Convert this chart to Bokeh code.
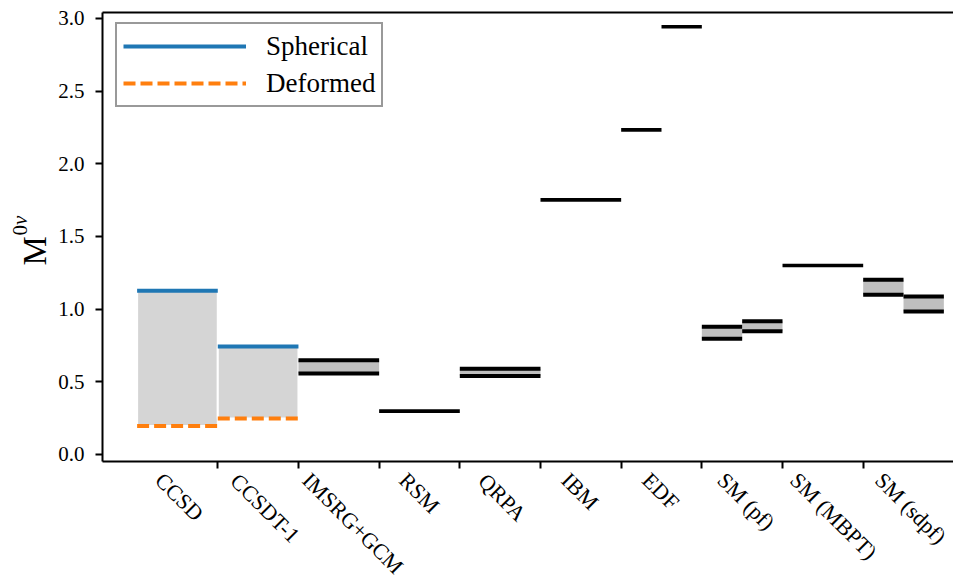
import math
from bokeh.plotting import figure
from bokeh.models import (Range1d, FixedTicker, LinearAxis, Label, Legend,
                          LegendItem, PrintfTickFormatter)
from bokeh.embed import file_html
from bokeh.resources import INLINE

# ---------------- data ----------------
methods = ["CCSD", "CCSDT-1", "IMSRG+GCM", "RSM", "QRPA", "IBM", "EDF",
           "SM (pf)", "SM (MBPT)", "SM (sdpf)"]

# coupled-cluster results: spherical vs deformed reference
cc_methods = ["CCSD", "CCSDT-1"]
cc_spherical = [1.126, 0.743]
cc_deformed = [0.195, 0.248]

# results given as a band (lower, upper); "left"/"right" = half of the slot
band_methods = ["IMSRG+GCM", "QRPA", "SM (pf)", "SM (pf)", "SM (sdpf)", "SM (sdpf)"]
band_half = ["full", "full", "left", "right", "left", "right"]
band_low = [0.557, 0.539, 0.796, 0.848, 1.099, 0.984]
band_high = [0.649, 0.590, 0.879, 0.917, 1.202, 1.087]

# results given as a single value
single_methods = ["RSM", "IBM", "EDF", "EDF", "SM (MBPT)"]
single_half = ["full", "full", "left", "right", "full"]
single_value = [0.298, 1.752, 2.234, 2.943, 1.300]

y_ticks = [0.0, 0.5, 1.0, 1.5, 2.0, 2.5, 3.0]
legend_labels = ["Spherical", "Deformed"]

# ---------------- geometry (axes box limits) ----------------
W, H = 953, 583
X_LEFT, X_RIGHT = -0.429, 10.45      # visible axes box in data units (x)
Y_BOT, Y_TOP = -0.048, 3.041          # visible axes box in data units (y)
PXX = 80.675                          # pixels per x unit
PXY = 145.33                          # pixels per y unit
LEFT_PX, TOP_PX = 102, 12             # axes box position on canvas

# the frame covers the whole canvas; axes are drawn at fixed locations
x_start = X_LEFT - LEFT_PX / PXX
x_end = x_start + W / PXX
y_end = Y_TOP + TOP_PX / PXY
y_start = y_end - H / PXY


def span(method, half="full"):
    k = methods.index(method)
    if half == "left":
        return k, k + 0.5
    if half == "right":
        return k + 0.5, k + 1
    return k, k + 1


FONT = "Liberation Serif"
BLUE = "#1f77b4"
ORANGE = "#ff7f0e"

p = figure(width=W, height=H, output_backend="svg", toolbar_location=None,
           x_range=Range1d(x_start, x_end), y_range=Range1d(y_start, y_end),
           min_border=0, min_border_left=0, min_border_right=0,
           min_border_top=0, min_border_bottom=0)
p.outline_line_color = None
p.xgrid.visible = False
p.ygrid.visible = False
p.background_fill_color = "white"
p.border_fill_color = "white"

# ---- axes ----
xa = p.xaxis[0]
xa.fixed_location = Y_BOT
xa.bounds = (X_LEFT, X_RIGHT)
xa.ticker = FixedTicker(ticks=[], minor_ticks=list(range(1, len(methods))))
xa.axis_line_width = 2
xa.axis_line_color = "black"
xa.minor_tick_out = 7
xa.minor_tick_in = 0
xa.minor_tick_line_width = 2
xa.minor_tick_line_color = "black"
xa.major_tick_out = 0
xa.major_tick_in = 0
xa.major_label_text_font_size = "0px"

ya = p.yaxis[0]
ya.fixed_location = X_LEFT
ya.bounds = (Y_BOT, Y_TOP)
ya.ticker = FixedTicker(ticks=y_ticks, minor_ticks=[])
ya.formatter = PrintfTickFormatter(format="%.1f")
ya.axis_line_width = 2
ya.axis_line_color = "black"
ya.major_tick_out = 7
ya.major_tick_in = 0
ya.major_tick_line_width = 2
ya.major_tick_line_color = "black"
ya.minor_tick_out = 0
ya.minor_tick_in = 0
ya.major_label_text_font = FONT
ya.major_label_text_font_size = "21px"
ya.major_label_text_color = "black"
ya.major_label_standoff = 11

top = LinearAxis(ticker=FixedTicker(ticks=[], minor_ticks=[]),
                 fixed_location=Y_TOP, bounds=(X_LEFT, X_RIGHT),
                 axis_line_width=2, axis_line_color="black",
                 major_tick_out=0, major_tick_in=0, minor_tick_out=0, minor_tick_in=0,
                 major_label_text_font_size="0px")
p.add_layout(top, "above")

# ---- coupled cluster bands ----
cc_x0 = [span(m)[0] for m in cc_methods]
cc_x1 = [span(m)[1] for m in cc_methods]
p.quad(left=cc_x0, right=cc_x1, bottom=cc_deformed, top=cc_spherical,
       fill_color="#d5d5d5", line_color="white", line_width=2)
r_sph = p.segment(x0=cc_x0, y0=cc_spherical, x1=cc_x1, y1=cc_spherical,
                  line_color=BLUE, line_width=4, line_cap="butt")
r_def = p.segment(x0=cc_x0, y0=cc_deformed, x1=cc_x1, y1=cc_deformed,
                  line_color=ORANGE, line_width=4, line_dash="12 5", line_cap="butt")

# ---- other bands ----
b_x0 = [span(m, h)[0] for m, h in zip(band_methods, band_half)]
b_x1 = [span(m, h)[1] for m, h in zip(band_methods, band_half)]
p.quad(left=b_x0, right=b_x1, bottom=band_low, top=band_high,
       fill_color="#bfbfbf", line_color=None)
p.segment(x0=b_x0, y0=band_low, x1=b_x1, y1=band_low,
          line_color="black", line_width=4, line_cap="butt")
p.segment(x0=b_x0, y0=band_high, x1=b_x1, y1=band_high,
          line_color="black", line_width=4, line_cap="butt")

# ---- single values ----
s_x0 = [span(m, h)[0] for m, h in zip(single_methods, single_half)]
s_x1 = [span(m, h)[1] for m, h in zip(single_methods, single_half)]
p.segment(x0=s_x0, y0=single_value, x1=s_x1, y1=single_value,
          line_color="black", line_width=3.7, line_cap="butt")

# ---- legend (top-left corner inside the axes box) ----
L_PAD, L_ROW, L_SP = 6, 32, 5
legend_h = 2 * L_PAD + 2 * L_ROW + L_SP + 2
legend_left_px = LEFT_PX + 13
legend_top_px = TOP_PX + 12
legend = Legend(items=[LegendItem(label=legend_labels[0], renderers=[r_sph]),
                       LegendItem(label=legend_labels[1], renderers=[r_def])],
                location=(legend_left_px, H - legend_top_px - legend_h),
                padding=L_PAD, spacing=L_SP, margin=0,
                glyph_width=123, glyph_height=L_ROW, label_height=L_ROW,
                label_standoff=20, label_text_font=FONT,
                label_text_font_size="27px", label_text_color="black",
                label_text_baseline="middle",
                border_line_color="#333333", border_line_width=2,
                background_fill_color="white", background_fill_alpha=1.0)
p.add_layout(legend)

# ---- rotated category labels under each slot ----
TIMES_W = {'C': 0.667, 'S': 0.556, 'D': 0.722, 'T': 0.611, '-': 0.333, '1': 0.5,
           'I': 0.333, 'M': 0.889, 'R': 0.667, 'G': 0.722, '+': 0.564, 'Q': 0.722,
           'P': 0.556, 'A': 0.722, 'B': 0.667, 'E': 0.611, 'F': 0.556, ' ': 0.25,
           '(': 0.333, ')': 0.333, 'p': 0.5, 'f': 0.333, 'd': 0.5, 's': 0.389}
fs = 22
for k, m in enumerate(methods):
    w_em = sum(TIMES_W.get(c, 0.55) for c in m)
    w = w_em * fs
    drop = 10 + 0.3535 * w + 0.233 * fs          # px below the x axis line
    shift = -7.5 + 3.6 * w_em                    # px along x from slot centre
    p.add_layout(Label(x=k + 0.5 + shift / PXX, y=Y_BOT - drop / PXY,
                       x_units="data", y_units="data",
                       text=m, angle=-math.pi / 4, text_align="center",
                       text_baseline="middle", text_font=FONT,
                       text_font_size=f"{fs}px", text_color="black"))

# ---- y axis label  M^{0ν} (rotated, reads bottom to top) ----
m_fs, sup_fs = 33, 21
p.add_layout(Label(x=X_LEFT - 68 / PXX, y=Y_BOT + 196 / PXY, text="M",
                   angle=math.pi / 2, text_align="left", text_baseline="alphabetic",
                   text_font=FONT, text_font_size=f"{m_fs}px", text_color="black"))
p.add_layout(Label(x=X_LEFT - 83 / PXX, y=Y_BOT + 226 / PXY, text="0",
                   angle=math.pi / 2, text_align="left", text_baseline="alphabetic",
                   text_font=FONT, text_font_size=f"{sup_fs}px", text_color="black"))
p.add_layout(Label(x=X_LEFT - 83 / PXX, y=Y_BOT + (226 + 0.5 * sup_fs) / PXY, text="ν",
                   angle=math.pi / 2, text_align="left", text_baseline="alphabetic",
                   text_font=FONT, text_font_style="italic",
                   text_font_size=f"{sup_fs}px", text_color="black"))

open("out.html", "w").write(file_html(p, INLINE))
